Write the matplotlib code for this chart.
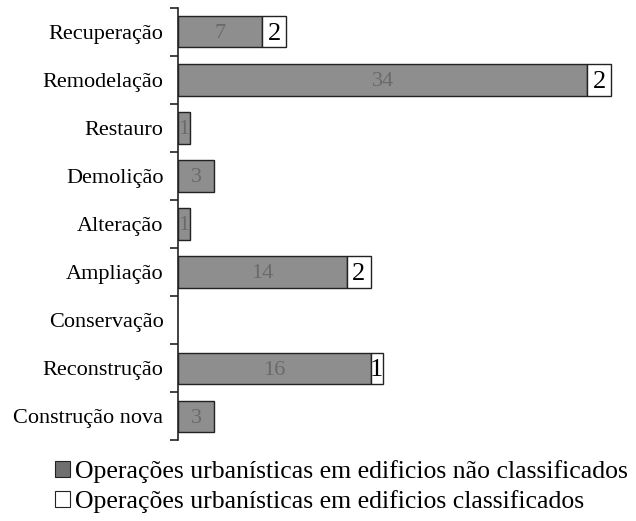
import matplotlib
matplotlib.use("Agg")
import matplotlib.pyplot as plt
import numpy as np
from matplotlib.patches import Patch

categories = ["Recuperação", "Remodelação", "Restauro", "Demolição", "Alteração",
              "Ampliação", "Conservação", "Reconstrução", "Construção nova"]
nao_classificados = [7, 34, 1, 3, 1, 14, 0, 16, 3]
classificados = [2, 2, 0, 0, 0, 2, 0, 1, 0]
legend_labels = ["Operações urbanísticas em edificios não classificados",
                 "Operações urbanísticas em edificios classificados"]

plt.rcParams['font.family'] = ['Liberation Serif', 'DejaVu Serif']

fig = plt.figure(figsize=(6.36, 5.21), dpi=100)
ax = fig.add_axes([0.28, 0.155, 0.70, 0.83])

y = np.arange(len(categories))
h = 0.65
gray = '#8e8e8e'
lw1 = [1.0 if v > 0 else 0 for v in nao_classificados]
lw2 = [1.0 if v > 0 else 0 for v in classificados]
ax.barh(y, nao_classificados, height=h, color=gray, edgecolor='#222222', linewidth=lw1)
ax.barh(y, classificados, left=nao_classificados, height=h, color='white',
        edgecolor='#222222', linewidth=lw2)

for i, (a, b) in enumerate(zip(nao_classificados, classificados)):
    if a > 0:
        ax.text(a / 2, i + 0.04, str(a), ha='center', va='center', fontsize=16, color='#6a6a6a')
    if b > 0:
        ax.text(a + b / 2, i + 0.04, str(b), ha='center', va='center', fontsize=19, color='black')

ax.set_ylim(len(categories) - 0.5, -0.5)
ax.set_xlim(0, 37)
ax.set_yticks(y)
ax.set_yticklabels(categories, fontsize=16)
ax.tick_params(axis='y', which='major', length=0, pad=10.5)
ax.set_yticks(np.arange(len(categories) + 1) - 0.5, minor=True)
ax.tick_params(axis='y', which='minor', length=6, width=1.2, color='#222222')
ax.set_xticks([])
for s in ['top', 'right', 'bottom']:
    ax.spines[s].set_visible(False)
ax.spines['left'].set_linewidth(1.2)
ax.spines['left'].set_color('#222222')

handles = [Patch(facecolor='#6f6f6f', edgecolor='#222222', linewidth=0.8),
           Patch(facecolor='white', edgecolor='#222222', linewidth=0.8)]
fig.legend(handles, legend_labels, loc='lower left', bbox_to_anchor=(0.07, -0.005),
           frameon=False, fontsize=18.5, handlelength=0.6, handleheight=0.6,
           handletextpad=0.2, labelspacing=0.28, borderaxespad=0.0)

fig.savefig("out.png", dpi=100)
